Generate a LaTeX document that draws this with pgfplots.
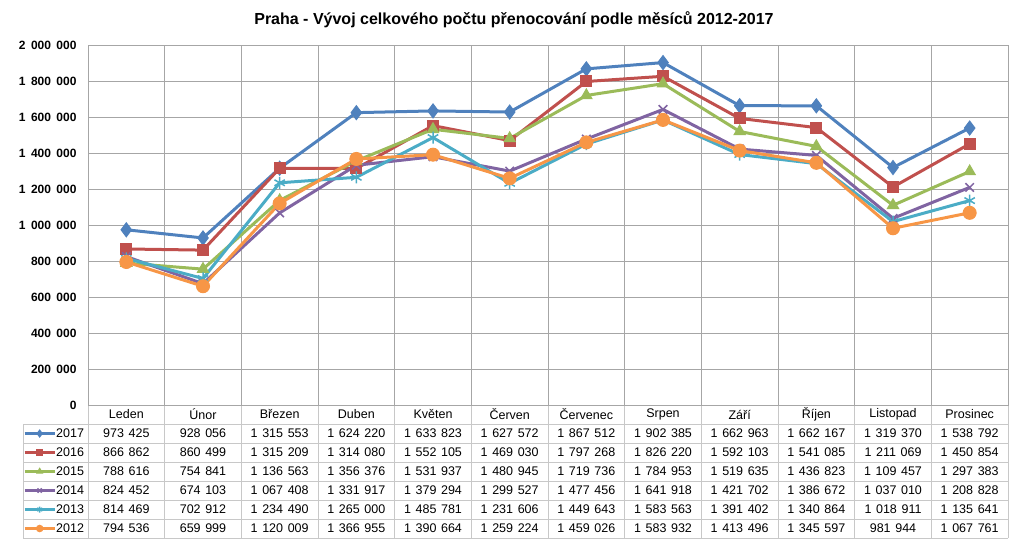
\documentclass[border=0pt]{standalone}
\usepackage{fontspec}
\setmainfont{Liberation Sans}
\usepackage{pgfplots}
\usepackage{pgfplotstable}
\pgfplotsset{compat=1.18}
\definecolor{c17}{HTML}{4F81BD}
\definecolor{c16}{HTML}{C0504D}
\definecolor{c15}{HTML}{9BBB59}
\definecolor{c14}{HTML}{8064A2}
\definecolor{c13}{HTML}{4BACC6}
\definecolor{c12}{HTML}{F79646}
\definecolor{gridc}{HTML}{A6A6A6}
\definecolor{tabc}{HTML}{C8C8C8}
\pgfplotstableread{
m y17 y16 y15 y14 y13 y12
1 973425 866862 788616 824452 814469 794536
2 928056 860499 754841 674103 702912 659999
3 1315553 1315209 1136563 1067408 1234490 1120009
4 1624220 1314080 1356376 1331917 1265000 1366955
5 1633823 1552105 1531937 1379294 1485781 1390664
6 1627572 1469030 1480945 1299527 1231606 1259224
7 1867512 1797268 1719736 1477456 1449643 1459026
8 1902385 1826220 1784953 1641918 1583563 1583932
9 1662963 1592103 1519635 1421702 1391402 1413496
10 1662167 1541085 1436823 1386672 1340864 1345597
11 1319370 1211069 1109457 1037010 1018911 981944
12 1538792 1450854 1297383 1208828 1135641 1067761
}\data
\begin{document}
\begin{tikzpicture}[x=1pt,y=1pt]
\useasboundingbox (0,0) rectangle (1024,-546);
\node[font=\bfseries\fontsize{16}{18}\selectfont] at (514,-20) {Praha - Vývoj celkového počtu přenocování podle měsíců 2012-2017};
% table grid
\foreach \k in {0,...,12} {\draw[tabc, line width=0.8pt] ({88+\k*920/12},-405) -- ({88+\k*920/12},-538);}
\draw[tabc, line width=0.8pt] (23,-424) -- (23,-538);
\foreach \yy in {424,443,...,538} {\draw[tabc, line width=0.8pt] (23,-\yy) -- (1008,-\yy);}
\begin{axis}[
  at={(88pt,-405pt)}, anchor=south west,
  scale only axis, width=920pt, height=360pt,
  xmin=0.5, xmax=12.5, ymin=0, ymax=2000000,
  xtick={1.5,2.5,...,11.5}, xticklabels={},
  ytick={0,200000,...,2000000},
  scaled y ticks=false,
  xmajorgrids, ymajorgrids,
  grid style={gridc, line width=0.8pt},
  axis line style={gridc, line width=0.8pt},
  major tick length=0pt,
  yticklabel style={font=\bfseries\fontsize{12}{14}\selectfont, xshift=-8pt,
    /pgf/number format/.cd, fixed, precision=0, 1000 sep={\hspace{0.45em}}, assume math mode=true},
  clip=false,
  legend style={at={(0,0)}, anchor=north east, xshift=-4pt, yshift=-19pt,
    draw=none, fill=none, inner sep=0pt, outer sep=0pt, row sep=0pt,
    font=\fontsize{12.5}{14}\selectfont,
    nodes={inner sep=0pt, outer sep=0pt, minimum height=19pt}},
  legend cell align=right,
  legend image code/.code={\draw[mark repeat=2, mark phase=2, #1, line width=3pt, every mark/.append style={scale=0.5}] plot coordinates {(0pt,0pt) (15pt,0pt) (30pt,0pt)};},
]
\addplot[c17, line width=3pt, mark=diamond*, mark size=7pt, mark options={fill=c17, line width=1pt}] table[x=m,y=y17]{\data};
\addlegendentry{2017}
\addplot[c16, line width=3pt, mark=square*, mark size=5.5pt, mark options={fill=c16, line width=1pt}] table[x=m,y=y16]{\data};
\addlegendentry{2016}
\addplot[c15, line width=3pt, mark=triangle*, mark size=6.5pt, mark options={fill=c15, line width=1pt}] table[x=m,y=y15]{\data};
\addlegendentry{2015}
\addplot[c14, line width=3pt, mark=x, mark size=6pt, mark options={line width=1.5pt}] table[x=m,y=y14]{\data};
\addlegendentry{2014}
\addplot[c13, line width=3pt, mark=asterisk, mark size=6pt, mark options={line width=1.5pt}] table[x=m,y=y13]{\data};
\addlegendentry{2013}
\addplot[c12, line width=3pt, mark=*, mark size=6.5pt, mark options={fill=c12, line width=1pt}] table[x=m,y=y12]{\data};
\addlegendentry{2012}
\end{axis}
% header row
\foreach \n [count=\i from 0] in {Leden,Únor,Březen,Duben,Květen,Červen,Červenec,Srpen,Září,Říjen,Listopad,Prosinec} {
  \node[font=\fontsize{12.5}{14}\selectfont] at ({88+(\i+0.5)*920/12},-414.5) {\n};
}
% values
\foreach \col [count=\r from 0] in {y17,y16,y15,y14,y13,y12} {
  \foreach \i in {0,...,11} {
    \pgfplotstablegetelem{\i}{\col}\of\data
    \node[font=\fontsize{12.5}{14}\selectfont] at ({88+(\i+0.5)*920/12},{-433.5-\r*19}) {\pgfmathprintnumber[fixed, precision=0, 1000 sep={\hspace{0.37em}}, assume math mode=true]{\pgfplotsretval}};
  }
}
\end{tikzpicture}
\end{document}
